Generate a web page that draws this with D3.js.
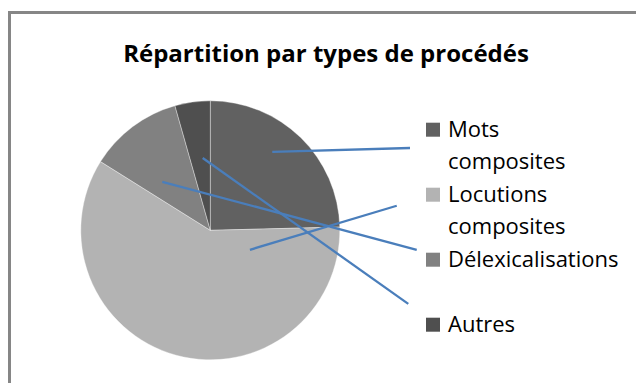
<!DOCTYPE html>
<html>
<head>
<meta charset="utf-8">
<script src="https://cdn.jsdelivr.net/npm/d3@7/dist/d3.min.js"></script>
<style>
  html, body { margin: 0; padding: 0; background: #fff; }
  svg { display: block; }
</style>
</head>
<body>
<svg id="chart" width="636" height="383"></svg>
<script>
// Share of each word-formation process (percent)
const categories = ["Mots composites", "Locutions composites", "Délexicalisations", "Autres"];
const values = [24.6, 59.3, 11.7, 4.4];
const legendLines = [["Mots", "composites"], ["Locutions", "composites"], ["Délexicalisations"], ["Autres"]];
const colors = ["#616161", "#b3b3b3", "#818181", "#4f4f4f"];
const title = "Répartition par types de procédés";

// Leader lines of the (empty) data labels: [angle°, radius fraction] for both ends
const leaderInner = [[38.3, 0.772], [116.2, 0.341], [315.3, 0.527], [354.0, 0.561]];
const leaderOuter = [[67.6, 1.668], [82.5, 1.452], [95.4, 1.601], [110.4, 1.631]];

const W = 636, H = 383;
const cx = 210.3, cy = 230.3, R = 129.5;
const font = "'Open Sans', 'Liberation Sans', sans-serif";

const svg = d3.select("#chart");

// chart frame (right and bottom edges run past the visible area)
svg.append("rect")
  .attr("x", 9.5).attr("y", 12.5)
  .attr("width", W + 20).attr("height", H + 20)
  .attr("fill", "#fff")
  .attr("stroke", "#868686")
  .attr("stroke-width", 3);

svg.append("text")
  .attr("x", 326).attr("y", 62)
  .attr("text-anchor", "middle")
  .attr("font-family", font)
  .attr("font-weight", "bold")
  .attr("font-size", 24)
  .attr("fill", "#000")
  .text(title);

const pie = d3.pie().sort(null).value(d => d);
const arc = d3.arc().innerRadius(0).outerRadius(R);
const g = svg.append("g").attr("transform", `translate(${cx},${cy})`);

g.selectAll("path.slice")
  .data(pie(values))
  .join("path")
  .attr("class", "slice")
  .attr("d", arc)
  .attr("fill", (d, i) => colors[i])
  .attr("stroke", "#ffffff")
  .attr("stroke-opacity", 0.45)
  .attr("stroke-width", 0.8);

// polar -> cartesian, angle clockwise from 12 o'clock
const rScale = d3.scaleLinear().domain([0, 1]).range([0, R]);
const polar = ([a, f]) => {
  const t = a * Math.PI / 180;
  return [Math.sin(t) * rScale(f), -Math.cos(t) * rScale(f)];
};

g.selectAll("line.leader")
  .data(categories.map((c, i) => ({ a: polar(leaderInner[i]), b: polar(leaderOuter[i]) })))
  .join("line")
  .attr("class", "leader")
  .attr("x1", d => d.a[0]).attr("y1", d => d.a[1])
  .attr("x2", d => d.b[0]).attr("y2", d => d.b[1])
  .attr("stroke", "#4a7ebb")
  .attr("stroke-width", 2.3);

// legend: every entry takes two text rows
const legX = 426, legY0 = 136.7, rowH = 32.5, sw = 14;
const leg = svg.append("g");
categories.forEach((c, i) => {
  const by = legY0 + i * 2 * rowH;
  leg.append("rect")
    .attr("x", legX).attr("y", by - sw)
    .attr("width", sw).attr("height", sw)
    .attr("fill", colors[i]);
  legendLines[i].forEach((ln, j) => {
    leg.append("text")
      .attr("x", legX + 22).attr("y", by + j * rowH)
      .attr("font-family", font)
      .attr("font-size", 22)
      .attr("fill", "#000")
      .text(ln);
  });
});
</script>
</body>
</html>
